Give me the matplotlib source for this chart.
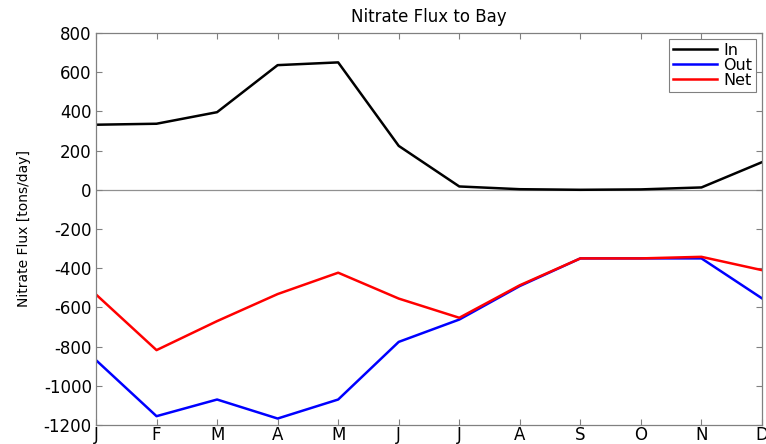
import matplotlib
matplotlib.use('Agg')
import matplotlib.pyplot as plt

plt.rcParams['font.family'] = ['DejaVu Sans']
plt.rcParams['axes.unicode_minus'] = False

# monthly nitrate flux (tons/day)
months = ['J', 'F', 'M', 'A', 'M', 'J', 'J', 'A', 'S', 'O', 'N', 'D']
monthNum = list(range(1, 13))
fluxIn = [332, 337, 396, 636, 650, 224, 17, 3, 0, 2, 12, 141]
fluxOut = [-869, -1155, -1070, -1167, -1070, -776, -662, -491, -350, -350, -350, -554]
fluxNet = [-534, -818, -670, -532, -423, -555, -653, -487, -350, -350, -342, -410]

fig = plt.figure(figsize=(7.66, 4.44), dpi=100)
ax = fig.add_axes([0.1253, 0.0428, 0.8695, 0.8829])

ax.axhline(0, color='#909090', linewidth=0.9, zorder=1)
ax.plot(monthNum, fluxIn, color='black', linewidth=1.8, label='In')
ax.plot(monthNum, fluxOut, color='#0000ff', linewidth=1.8, label='Out')
ax.plot(monthNum, fluxNet, color='#ff0000', linewidth=1.8, label='Net')

ax.set_xlim(1, 12)
ax.set_ylim(-1200, 800)
ax.set_xticks(monthNum)
ax.set_xticklabels(months)
ax.set_yticks(range(-1200, 801, 200))

ax.tick_params(direction='in', top=True, right=True, length=4, width=0.8,
               color='#808080', labelsize=12)
ax.tick_params(axis='x', pad=1)
ax.tick_params(axis='y', pad=3)
for s in ax.spines.values():
    s.set_color('#808080')
    s.set_linewidth(0.9)

ax.set_title('Nitrate Flux to Bay', fontsize=12, pad=8)
ax.set_ylabel('Nitrate Flux [tons/day]', fontsize=10, labelpad=9)

leg = ax.legend(loc='upper right', fontsize=11.5, fancybox=False, framealpha=1,
                borderpad=0.25, labelspacing=0.0, handlelength=2.75,
                handletextpad=0.4, borderaxespad=0.37)
leg.get_frame().set_edgecolor('#808080')
leg.get_frame().set_linewidth(0.8)

fig.savefig('out.png', dpi=100)
